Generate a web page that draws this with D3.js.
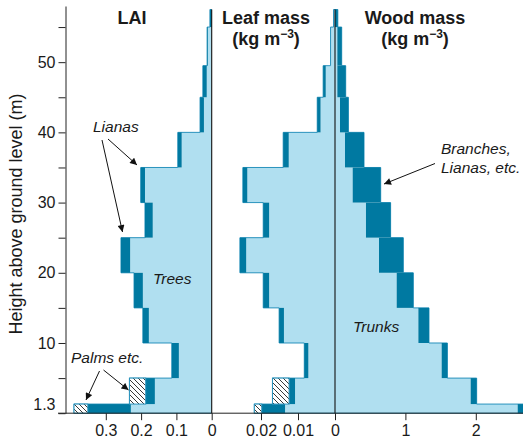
<!DOCTYPE html>
<html><head><meta charset="utf-8">
<script src="https://cdn.jsdelivr.net/npm/d3@7"></script>
<style>
body{margin:0;background:#fff}
svg{display:block}
text{font-family:"Liberation Sans",Arial,Helvetica,sans-serif;fill:#1a1a1a}
</style>
</head><body>
<svg id="c" width="523" height="442"></svg>
<script>
// Layer boundaries (m above ground)
const layerHeights = [0, 1.3, 5, 10, 15, 20, 25, 30, 35, 40, 45, 49.5, 55, 57.5];
// LAI per layer (bottom -> top)
const laiTrees  = [0.229, 0.161, 0.093, 0.178, 0.195, 0.231, 0.167, 0.189, 0.085, 0.022, 0.014, 0.011, 0.000];
const laiLianas = [0.122, 0.026, 0.020, 0.017, 0.025, 0.026, 0.022, 0.012, 0.011, 0.011, 0.011, 0.002, 0.005];
const laiPalms  = [0.039, 0.046, 0, 0, 0, 0, 0, 0, 0, 0, 0, 0, 0];
// Leaf mass (kg m-3)
const leafTrees  = [0.0135, 0.0108, 0.0072, 0.0138, 0.0178, 0.0240, 0.0178, 0.0237, 0.0125, 0.0039, 0.0025, 0.0012, 0.0004];
const leafLianas = [0.0063, 0.0016, 0.0011, 0.0013, 0.0016, 0.0017, 0.0016, 0.0012, 0.0015, 0.0009, 0.0007, 0.0000, 0.0000];
const leafPalms  = [0.0020, 0.0045, 0, 0, 0, 0, 0, 0, 0, 0, 0, 0, 0];
// Wood mass (kg m-3)
const woodTrunks   = [2.595, 1.927, 1.515, 1.184, 0.876, 0.625, 0.440, 0.251, 0.142, 0.071, 0.033, 0.033, 0.000];
const woodBranches = [0.080, 0.085, 0.081, 0.151, 0.236, 0.345, 0.350, 0.398, 0.270, 0.119, 0.119, 0.062, 0.040];
const woodOther    = [0, 0, 0, 0, 0, 0, 0, 0, 0, 0, 0, 0, 0];
// Tick labels
const yTicks = [0, 1.3, 5, 10, 15, 20, 25, 30, 35, 40, 45, 50, 55];
const laiTicks = [0, 0.1, 0.2, 0.3];
const leafTicks = [0.01, 0.02];
const woodTicks = [0, 1, 2];

const LIGHT = "#b0dff0", DARK = "#0079a1", EDGE = "#2a93bd";

const svg = d3.select("#c");
const defs = svg.append("defs");
const pat = defs.append("pattern").attr("id","hatch").attr("patternUnits","userSpaceOnUse")
  .attr("width",5).attr("height",5);
pat.append("rect").attr("width",5).attr("height",5).attr("fill","#fff");
pat.append("path").attr("d","M0,0L5,5M-1,4L1,6M4,-1L6,1").attr("stroke","#222").attr("stroke-width",0.9);
defs.append("marker").attr("id","arr").attr("viewBox","0 0 10 10").attr("refX",10).attr("refY",5)
  .attr("markerWidth",8).attr("markerHeight",7).attr("markerUnits","userSpaceOnUse").attr("orient","auto")
  .append("path").attr("d","M0,0L10,5L0,10z").attr("fill","#111");

const y = d3.scaleLinear().domain([0, 58]).range([413.2, 6]);
const xLai = d3.scaleLinear().domain([0, 0.4]).range([211.7, 70.5]);
const xLeaf = d3.scaleLinear().domain([0, 0.02]).range([335, 261]);
const xWood = d3.scaleLinear().domain([0, 2]).range([335, 475.8]);

const layers = d3.range(layerHeights.length - 1).map(i => ({b: layerHeights[i], t: layerHeights[i+1], i}));

function profilePoints(vals){
  const pts = [];
  layers.forEach(l => { pts.push({h:l.b, v:vals[l.i]}); pts.push({h:l.t, v:vals[l.i]}); });
  return pts;
}

const plot = svg.append("g").attr("clip-path","url(#clipAll)");
defs.append("clipPath").attr("id","clipAll").append("rect").attr("x",0).attr("y",0).attr("width",523).attr("height",442);

function drawPanel(x, a, b, c){
  const g = plot.append("g");
  const tot = a.map((v,i)=>v + b[i] + c[i]);
  const area = d3.area().x0(x(0)).x1(d=>x(d.v)).y(d=>y(d.h));
  // light (trees / trunks)
  g.append("path").attr("d", area(profilePoints(a))).attr("fill", LIGHT);
  // envelope outline
  const line = d3.line().x(d=>x(d.v)).y(d=>y(d.h));
  const env = [{h:0,v:0}].concat(profilePoints(tot)).concat([{h:layerHeights[layerHeights.length-1], v:0}]);
  g.append("path").attr("d", line(env)).attr("fill","none").attr("stroke",EDGE).attr("stroke-width",1);
  // dark (lianas / branches)
  g.selectAll("rect.dk").data(layers.filter(l=>b[l.i]>0)).join("rect").attr("class","dk")
    .attr("x", l=>Math.min(x(a[l.i]), x(a[l.i]+b[l.i])))
    .attr("width", l=>Math.abs(x(a[l.i]+b[l.i]) - x(a[l.i])))
    .attr("y", l=>y(l.t)).attr("height", l=>y(l.b)-y(l.t)).attr("fill", DARK);
  // hatched (palms)
  g.selectAll("rect.ht").data(layers.filter(l=>c[l.i]>0)).join("rect").attr("class","ht")
    .attr("x", l=>Math.min(x(a[l.i]+b[l.i]), x(tot[l.i])))
    .attr("width", l=>Math.abs(x(tot[l.i]) - x(a[l.i]+b[l.i])))
    .attr("y", l=>y(l.t)).attr("height", l=>y(l.b)-y(l.t))
    .attr("fill","url(#hatch)").attr("stroke",EDGE).attr("stroke-width",1);
}
drawPanel(xLai, laiTrees, laiLianas, laiPalms);
drawPanel(xLeaf, leafTrees, leafLianas, leafPalms);
drawPanel(xWood, woodTrunks, woodBranches, woodOther);

// zero lines
const topH = layerHeights[layerHeights.length-1];
[xLai(0), xWood(0)].forEach(px => {
  svg.append("line").attr("x1",px).attr("x2",px).attr("y1",y(topH)).attr("y2",y(0))
    .attr("stroke","#111").attr("stroke-width",1.1);
});

// left axis
const yAxis = d3.axisLeft(y).tickValues(yTicks).tickSize(7).tickPadding(3).tickSizeOuter(0)
  .tickFormat(d => d === 1.3 ? "1.3" : (d > 0 && d % 10 === 0 ? d : ""));
const ya = svg.append("g").attr("transform","translate(65.5,0)").call(yAxis);
ya.selectAll(".tick").filter(d=>d===1.3).select("line").attr("x2",0);
ya.selectAll("text").attr("font-size",16).style("fill","#1a1a1a");
ya.selectAll("line,path").attr("stroke","#222");

// bottom baseline
svg.append("line").attr("x1",58).attr("x2",523).attr("y1",y(0)).attr("y2",y(0)).attr("stroke","#222");
function bottomAxis(x, ticks, fmt){
  const ax = d3.axisBottom(x).tickValues(ticks).tickSize(7).tickPadding(4).tickFormat(fmt);
  const g = svg.append("g").attr("transform",`translate(0,${y(0)})`).call(ax);
  g.select(".domain").remove();
  g.selectAll("text").attr("font-size",16).style("fill","#1a1a1a");
  g.selectAll("line").attr("stroke","#222");
}
bottomAxis(xLai, laiTicks, d => d === 0 ? "0" : d3.format(".1f")(d));
bottomAxis(xLeaf, leafTicks, d => d3.format(".2f")(d));
bottomAxis(xWood, woodTicks, d => String(d));

// y label
svg.append("text").attr("transform","translate(22,214) rotate(-90)").attr("text-anchor","middle")
  .attr("font-size",18).text("Height above ground level (m)");

// titles
function title(cx, lines){
  const t = svg.append("text").attr("text-anchor","middle").attr("font-size",18).attr("font-weight","bold");
  t.append("tspan").attr("x",cx).attr("y",24).text(lines[0]);
  if (lines.length > 1){
    const t2 = t.append("tspan").attr("x",cx).attr("y",45);
    t2.append("tspan").text("(kg m");
    t2.append("tspan").attr("font-size",12).attr("dy",-7).text("\u22123");
    t2.append("tspan").attr("dy",7).text(")");
  }
}
title(132, ["LAI"]);
title(266, ["Leaf mass", "(kg m-3)"]);
title(415, ["Wood mass", "(kg m-3)"]);

// annotations
function note(x0, y0, s){
  svg.append("text").attr("x",x0).attr("y",y0).attr("font-size",15.5).attr("font-style","italic").text(s);
}
note(93, 131.5, "Lianas");
note(153, 284, "Trees");
note(71, 363, "Palms etc.");
note(441, 154, "Branches,");
note(441, 172.5, "Lianas, etc.");
note(353, 331.5, "Trunks");

function arrow(x1,y1,x2,y2){
  svg.append("line").attr("x1",x1).attr("y1",y1).attr("x2",x2).attr("y2",y2)
    .attr("stroke","#111").attr("stroke-width",1).attr("marker-end","url(#arr)");
}
arrow(108,139,137,165);
arrow(102,140,122.5,232);
arrow(99.5,371,86,400);
arrow(103.5,370,128.5,390);
arrow(435,163.5,384,184);
</script>
</body></html>
